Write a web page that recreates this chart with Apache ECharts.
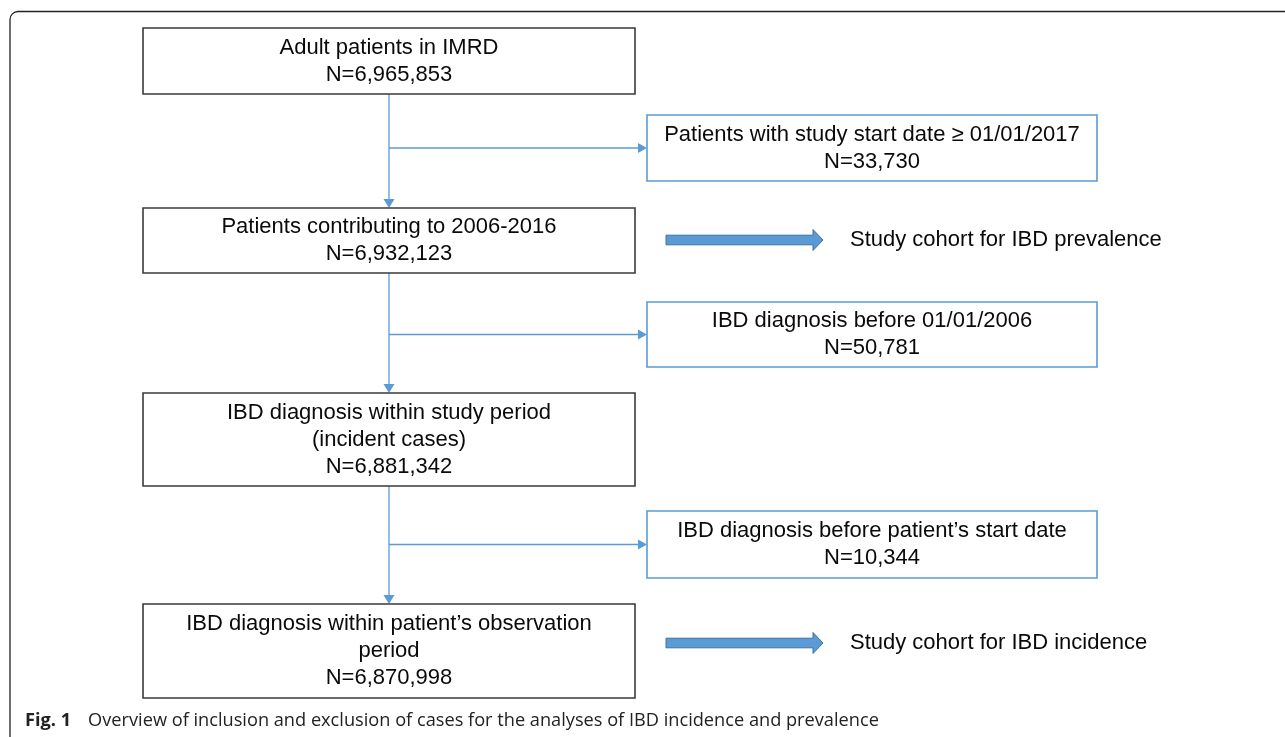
<!DOCTYPE html>
<html>
<head>
<meta charset="utf-8">
<script src="https://cdn.jsdelivr.net/npm/echarts@6/dist/echarts.min.js"></script>
<style>
html,body{margin:0;padding:0;background:#fff;}
#chart{width:1285px;height:737px;}
</style>
</head>
<body>
<div id="chart"></div>
<script>
// ---- Data ----
const mainLabels = [
  'Adult patients in IMRD',
  'Patients contributing to 2006-2016',
  'IBD diagnosis within study period\n(incident cases)',
  'IBD diagnosis within patient\u2019s observation\nperiod'
];
const mainCounts = ['6,965,853', '6,932,123', '6,881,342', '6,870,998'];
const exclusionLabels = [
  'Patients with study start date \u2265 01/01/2017',
  'IBD diagnosis before 01/01/2006',
  'IBD diagnosis before patient\u2019s start date'
];
const exclusionCounts = ['33,730', '50,781', '10,344'];
const cohortLabels = ['Study cohort for IBD prevalence', 'Study cohort for IBD incidence'];
const cohortStep = [1, 3];
const captionBold = 'Fig. 1';
const captionText = 'Overview of inclusion and exclusion of cases for the analyses of IBD incidence and prevalence';

// ---- Layout (pixel space of the hidden axes) ----
const W = 1285, H = 737;
const mainX = [143, 635];
const mainY = [[28, 94], [208, 273], [393, 486], [604, 698]];
const exclX = [647, 1097];
const exclY = [[115, 181], [302, 367], [511, 578]];
const spineX = 389;
const cohortArrowX = [666, 823];
const cohortY = [240, 643];
const cohortTextX = 850;
const LINE_H = 27;
const FONT = '22px "Liberation Sans", Arial, sans-serif';
const BLUE = '#5b9bd5';

function boxItem(api, x, y, lines, stroke) {
  const p1 = api.coord([x[0], y[0]]);
  const p2 = api.coord([x[1], y[1]]);
  const cy = (p1[1] + p2[1]) / 2;
  const cx = (p1[0] + p2[0]) / 2;
  const children = [{
    type: 'rect',
    shape: {x: p1[0], y: p1[1], width: p2[0] - p1[0], height: p2[1] - p1[1]},
    style: {fill: '#fff', stroke: stroke, lineWidth: 1.6}
  }];
  lines.forEach((t, i) => {
    children.push({
      type: 'text',
      style: {
        text: t, x: cx, y: cy + (i - (lines.length - 1) / 2) * LINE_H,
        align: 'center', verticalAlign: 'middle', font: FONT, fill: '#0a0a0a'
      }
    });
  });
  return {type: 'group', children: children};
}

const option = {
  animation: false,
  backgroundColor: '#fff',
  grid: {left: 0, right: 0, top: 0, bottom: 0},
  xAxis: {type: 'value', min: 0, max: W, show: false},
  yAxis: {type: 'value', min: 0, max: H, inverse: true, show: false},
  series: [
    // outer frame + caption
    {
      type: 'custom', clip: false, silent: true,
      data: [[0, 0]],
      renderItem: function (params, api) {
        const p = api.coord([10, 11.5]);
        const c = api.coord([25, 721]);
        return {type: 'group', children: [
          {type: 'rect', shape: {x: p[0], y: p[1], width: 1400, height: 1000, r: 8},
           style: {fill: 'none', stroke: '#222', lineWidth: 1.3}},
          {type: 'text', style: {
            x: c[0], y: c[1], verticalAlign: 'middle', align: 'left',
            text: '{b|' + captionBold + '}{r|' + captionText + '}',
            rich: {
              b: {font: 'bold 18.2px "Open Sans", "Noto Sans", sans-serif', fill: '#222', padding: [0, 17, 0, 0]},
              r: {font: '18.2px "Open Sans", "Noto Sans", sans-serif', fill: '#222'}
            }
          }}
        ]};
      }
    },
    // connectors (spine + branches)
    {
      type: 'custom', clip: false, silent: true,
      data: mainLabels.slice(1).map((_, i) => [i, 0]),
      renderItem: function (params, api) {
        const i = api.value(0);
        const top = api.coord([spineX, mainY[i][1]]);
        const bot = api.coord([spineX, mainY[i + 1][0]]);
        const children = [
          {type: 'line', shape: {x1: top[0], y1: top[1], x2: bot[0], y2: bot[1] - 8},
           style: {stroke: BLUE, lineWidth: 1.3}},
          {type: 'polygon', shape: {points: [[bot[0] - 5.5, bot[1] - 9], [bot[0] + 5.5, bot[1] - 9], [bot[0], bot[1]]]},
           style: {fill: BLUE}}
        ];
        const by = (exclY[i][0] + exclY[i][1]) / 2;
        const b1 = api.coord([spineX, by]);
        const b2 = api.coord([exclX[0], by]);
        children.push(
          {type: 'line', shape: {x1: b1[0], y1: b1[1], x2: b2[0] - 8, y2: b2[1]},
           style: {stroke: BLUE, lineWidth: 1.3}},
          {type: 'polygon', shape: {points: [[b2[0] - 9, b2[1] - 5], [b2[0] - 9, b2[1] + 5], [b2[0], b2[1]]]},
           style: {fill: BLUE}}
        );
        return {type: 'group', children: children};
      }
    },
    // main boxes
    {
      type: 'custom', clip: false, silent: true,
      data: mainLabels.map((_, i) => [i, 0]),
      renderItem: function (params, api) {
        const i = api.value(0);
        const lines = mainLabels[i].split('\n').concat(['N=' + mainCounts[i]]);
        return boxItem(api, mainX, mainY[i], lines, '#3a3a3a');
      }
    },
    // exclusion boxes
    {
      type: 'custom', clip: false, silent: true,
      data: exclusionLabels.map((_, i) => [i, 0]),
      renderItem: function (params, api) {
        const i = api.value(0);
        const lines = exclusionLabels[i].split('\n').concat(['N=' + exclusionCounts[i]]);
        return boxItem(api, exclX, exclY[i], lines, BLUE);
      }
    },
    // cohort arrows
    {
      type: 'custom', clip: false, silent: true,
      data: cohortLabels.map((_, i) => [i, 0]),
      renderItem: function (params, api) {
        const i = api.value(0);
        const y = cohortY[i];
        const a = api.coord([cohortArrowX[0], y]);
        const b = api.coord([cohortArrowX[1], y]);
        const t = api.coord([cohortTextX, y]);
        const hs = 4.8, hh = 10.5, hl = 10;
        return {type: 'group', children: [
          {type: 'polygon', shape: {points: [
            [a[0], a[1] - hs], [b[0] - hl, a[1] - hs], [b[0] - hl, a[1] - hh], [b[0], a[1]],
            [b[0] - hl, a[1] + hh], [b[0] - hl, a[1] + hs], [a[0], a[1] + hs]]},
           style: {fill: BLUE, stroke: '#41719c', lineWidth: 1}},
          {type: 'text', style: {text: cohortLabels[i], x: t[0], y: t[1], align: 'left',
            verticalAlign: 'middle', font: FONT, fill: '#0a0a0a'}}
        ]};
      }
    }
  ]
};

const chart = echarts.init(document.getElementById('chart'));
chart.setOption(option);
</script>
</body>
</html>
